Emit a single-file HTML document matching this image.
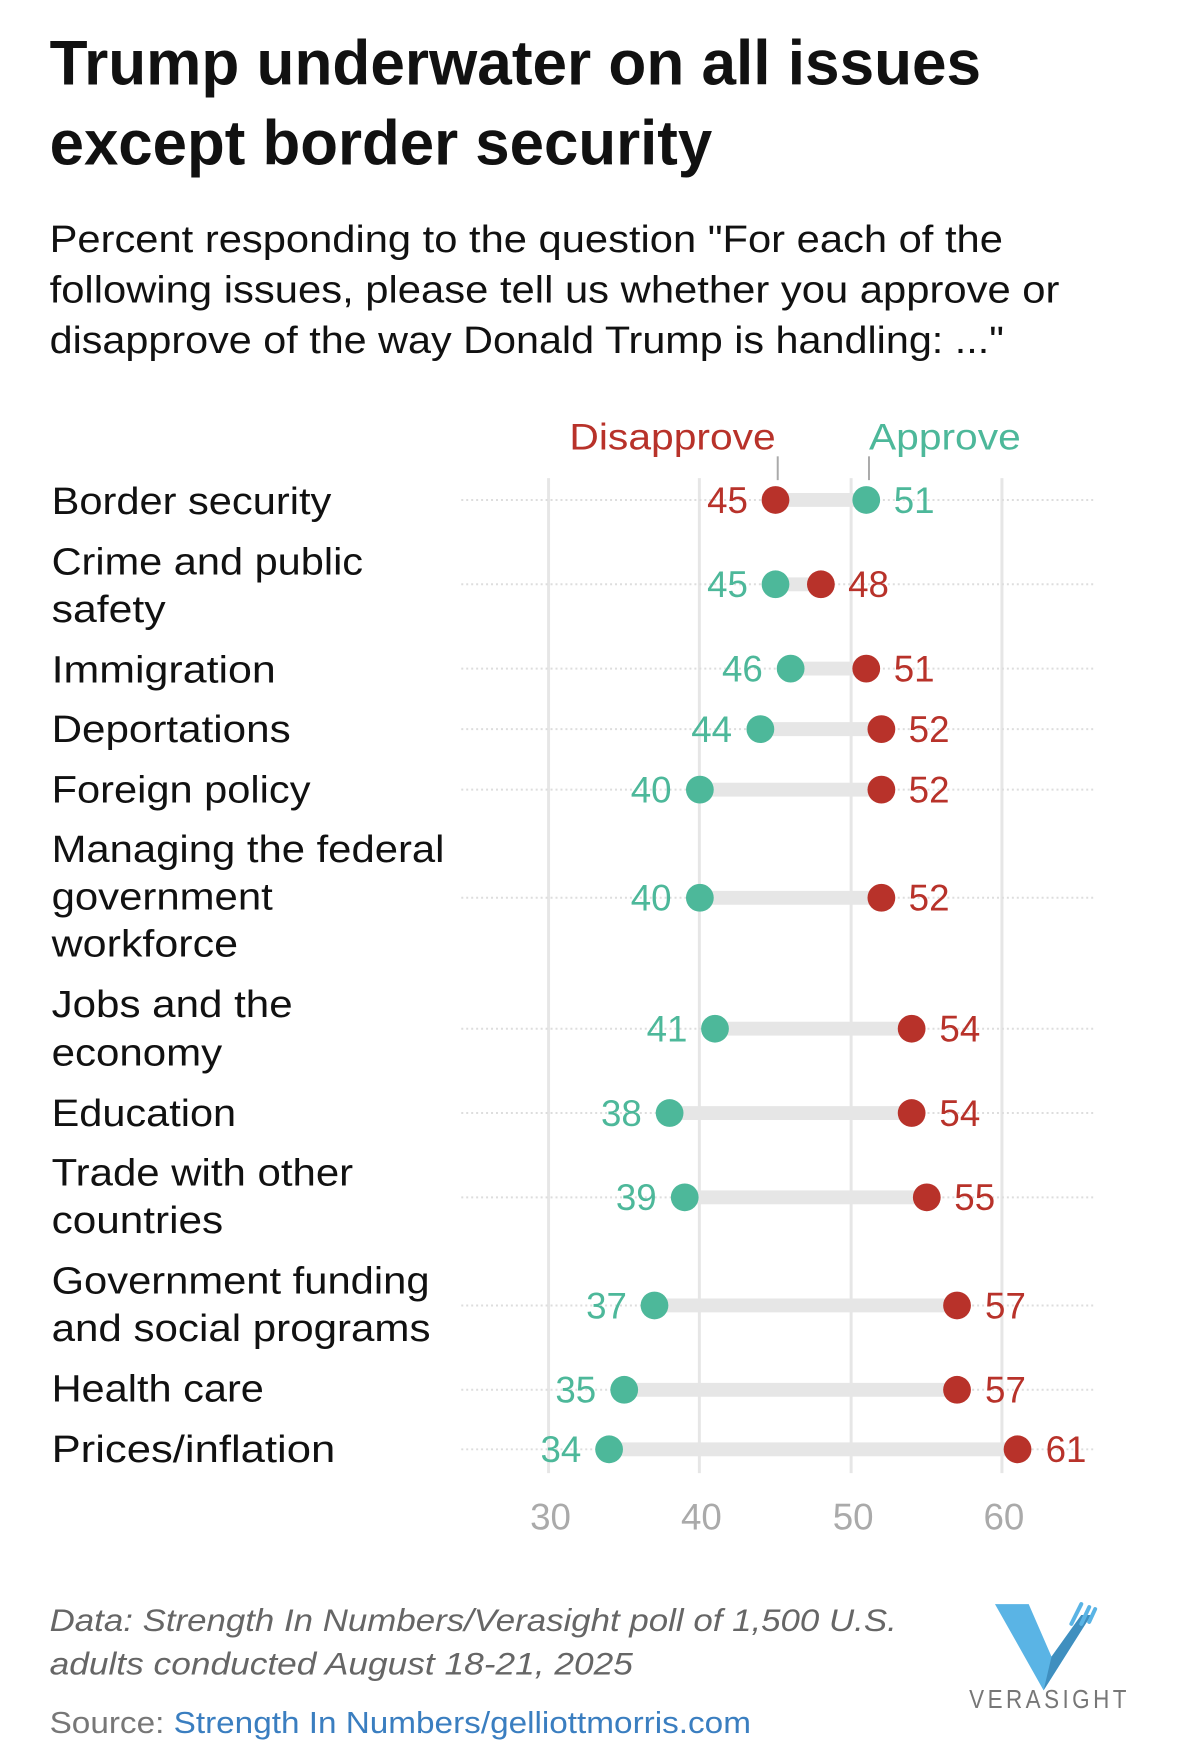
<!DOCTYPE html>
<html><head><meta charset="utf-8"><style>html,body{margin:0;padding:0;background:#fff}svg{display:block}</style></head>
<body>
<svg width="1179" height="1763" viewBox="0 0 1179 1763" xmlns="http://www.w3.org/2000/svg" font-family="Liberation Sans, sans-serif">
<rect width="1179" height="1763" fill="#fff"/>
<g transform="scale(0.992)">
<g font-weight="bold" font-size="64" fill="#111">
<text x="50" y="85" textLength="939" lengthAdjust="spacingAndGlyphs">Trump underwater on all issues</text>
<text x="50" y="166" textLength="668" lengthAdjust="spacingAndGlyphs">except border security</text>
</g>
<g font-size="38" fill="#111">
<text x="50" y="254" textLength="961" lengthAdjust="spacingAndGlyphs">Percent responding to the question "For each of the</text>
<text x="50" y="305" textLength="1018" lengthAdjust="spacingAndGlyphs">following issues, please tell us whether you approve or</text>
<text x="50" y="356" textLength="962" lengthAdjust="spacingAndGlyphs">disapprove of the way Donald Trump is handling: ..."</text>
</g>
<text x="574" y="453" font-size="37" fill="#b8322a" textLength="208" lengthAdjust="spacingAndGlyphs">Disapprove</text>
<text x="876" y="453" font-size="37" fill="#4db89a" textLength="153" lengthAdjust="spacingAndGlyphs">Approve</text>
<line x1="784" y1="460" x2="784" y2="484" stroke="#aaa" stroke-width="2"/>
<line x1="876" y1="460" x2="876" y2="484" stroke="#aaa" stroke-width="2"/>
<g stroke="#e6e6e6" stroke-width="3">
<line x1="553" y1="482" x2="553" y2="1485"/><line x1="705" y1="482" x2="705" y2="1485"/>
<line x1="858" y1="482" x2="858" y2="1485"/><line x1="1010" y1="482" x2="1010" y2="1485"/>
</g>
<g font-size="37" fill="#aaa" text-anchor="middle">
<text x="555" y="1542">30</text><text x="707" y="1542">40</text><text x="860" y="1542">50</text><text x="1012" y="1542">60</text>
</g>
<g stroke="#ddd" stroke-width="2" stroke-dasharray="2,3">
<line x1="465" y1="504" x2="1105" y2="504"/><line x1="465" y1="589" x2="1105" y2="589"/>
<line x1="465" y1="674" x2="1105" y2="674"/><line x1="465" y1="735" x2="1105" y2="735"/>
<line x1="465" y1="796" x2="1105" y2="796"/><line x1="465" y1="905" x2="1105" y2="905"/>
<line x1="465" y1="1037" x2="1105" y2="1037"/><line x1="465" y1="1122" x2="1105" y2="1122"/>
<line x1="465" y1="1207" x2="1105" y2="1207"/><line x1="465" y1="1316" x2="1105" y2="1316"/>
<line x1="465" y1="1401" x2="1105" y2="1401"/><line x1="465" y1="1461" x2="1105" y2="1461"/>
</g>
<g stroke="#e6e6e6" stroke-width="14">
<line x1="781.75" y1="504" x2="873.25" y2="504"/>
<line x1="781.75" y1="589" x2="827.5" y2="589"/>
<line x1="797" y1="674" x2="873.25" y2="674"/>
<line x1="766.5" y1="735" x2="888.5" y2="735"/>
<line x1="705.5" y1="796" x2="888.5" y2="796"/>
<line x1="705.5" y1="905" x2="888.5" y2="905"/>
<line x1="720.75" y1="1037" x2="919" y2="1037"/>
<line x1="675" y1="1122" x2="919" y2="1122"/>
<line x1="690.25" y1="1207" x2="934.25" y2="1207"/>
<line x1="659.75" y1="1316" x2="964.75" y2="1316"/>
<line x1="629.25" y1="1401" x2="964.75" y2="1401"/>
<line x1="614" y1="1461" x2="1025.75" y2="1461"/>
</g>
<g fill="#b8322a">
<circle cx="781.75" cy="504" r="14"/><circle cx="827.5" cy="589" r="14"/><circle cx="873.25" cy="674" r="14"/>
<circle cx="888.5" cy="735" r="14"/><circle cx="888.5" cy="796" r="14"/><circle cx="888.5" cy="905" r="14"/>
<circle cx="919" cy="1037" r="14"/><circle cx="919" cy="1122" r="14"/><circle cx="934.25" cy="1207" r="14"/>
<circle cx="964.75" cy="1316" r="14"/><circle cx="964.75" cy="1401" r="14"/><circle cx="1025.75" cy="1461" r="14"/>
</g>
<g fill="#4db89a">
<circle cx="873.25" cy="504" r="14"/><circle cx="781.75" cy="589" r="14"/><circle cx="797" cy="674" r="14"/>
<circle cx="766.5" cy="735" r="14"/><circle cx="705.5" cy="796" r="14"/><circle cx="705.5" cy="905" r="14"/>
<circle cx="720.75" cy="1037" r="14"/><circle cx="675" cy="1122" r="14"/><circle cx="690.25" cy="1207" r="14"/>
<circle cx="659.75" cy="1316" r="14"/><circle cx="629.25" cy="1401" r="14"/><circle cx="614" cy="1461" r="14"/>
</g>
<g font-size="37">
<text x="754" y="517" fill="#b8322a" text-anchor="end">45</text><text x="901" y="517" fill="#4db89a">51</text>
<text x="754" y="602" fill="#4db89a" text-anchor="end">45</text><text x="855" y="602" fill="#b8322a">48</text>
<text x="769" y="687" fill="#4db89a" text-anchor="end">46</text><text x="901" y="687" fill="#b8322a">51</text>
<text x="738" y="748" fill="#4db89a" text-anchor="end">44</text><text x="916" y="748" fill="#b8322a">52</text>
<text x="677" y="809" fill="#4db89a" text-anchor="end">40</text><text x="916" y="809" fill="#b8322a">52</text>
<text x="677" y="918" fill="#4db89a" text-anchor="end">40</text><text x="916" y="918" fill="#b8322a">52</text>
<text x="693" y="1050" fill="#4db89a" text-anchor="end">41</text><text x="947" y="1050" fill="#b8322a">54</text>
<text x="647" y="1135" fill="#4db89a" text-anchor="end">38</text><text x="947" y="1135" fill="#b8322a">54</text>
<text x="662" y="1220" fill="#4db89a" text-anchor="end">39</text><text x="962" y="1220" fill="#b8322a">55</text>
<text x="632" y="1329" fill="#4db89a" text-anchor="end">37</text><text x="993" y="1329" fill="#b8322a">57</text>
<text x="601" y="1414" fill="#4db89a" text-anchor="end">35</text><text x="993" y="1414" fill="#b8322a">57</text>
<text x="586" y="1474" fill="#4db89a" text-anchor="end">34</text><text x="1054" y="1474" fill="#b8322a">61</text>
</g>
<g font-size="38" fill="#111">
<text x="52" y="518" textLength="282" lengthAdjust="spacingAndGlyphs">Border security</text>
<text x="52" y="579" textLength="314" lengthAdjust="spacingAndGlyphs">Crime and public</text>
<text x="52" y="627" textLength="115" lengthAdjust="spacingAndGlyphs">safety</text>
<text x="52" y="688" textLength="226" lengthAdjust="spacingAndGlyphs">Immigration</text>
<text x="52" y="748" textLength="241" lengthAdjust="spacingAndGlyphs">Deportations</text>
<text x="52" y="809" textLength="261" lengthAdjust="spacingAndGlyphs">Foreign policy</text>
<text x="52" y="869" textLength="396" lengthAdjust="spacingAndGlyphs">Managing the federal</text>
<text x="52" y="917" textLength="223" lengthAdjust="spacingAndGlyphs">government</text>
<text x="52" y="964" textLength="188" lengthAdjust="spacingAndGlyphs">workforce</text>
<text x="52" y="1025" textLength="243" lengthAdjust="spacingAndGlyphs">Jobs and the</text>
<text x="52" y="1074" textLength="172" lengthAdjust="spacingAndGlyphs">economy</text>
<text x="52" y="1135" textLength="186" lengthAdjust="spacingAndGlyphs">Education</text>
<text x="52" y="1195" textLength="304" lengthAdjust="spacingAndGlyphs">Trade with other</text>
<text x="52" y="1243" textLength="173" lengthAdjust="spacingAndGlyphs">countries</text>
<text x="52" y="1304" textLength="381" lengthAdjust="spacingAndGlyphs">Government funding</text>
<text x="52" y="1352" textLength="382" lengthAdjust="spacingAndGlyphs">and social programs</text>
<text x="52" y="1413" textLength="214" lengthAdjust="spacingAndGlyphs">Health care</text>
<text x="52" y="1474" textLength="286" lengthAdjust="spacingAndGlyphs">Prices/inflation</text>
</g>
<g font-size="32" font-style="italic" fill="#666">
<text x="50" y="1644" textLength="854" lengthAdjust="spacingAndGlyphs">Data: Strength In Numbers/Verasight poll of 1,500 U.S.</text>
<text x="50" y="1688" textLength="588" lengthAdjust="spacingAndGlyphs">adults conducted August 18-21, 2025</text>
</g>
<text x="50" y="1747" font-size="31" fill="#777" textLength="707" lengthAdjust="spacingAndGlyphs">Source: <tspan fill="#3a7ec0">Strength In Numbers/gelliottmorris.com</tspan></text>
<polygon points="1003,1617 1037,1617 1060,1670 1090,1628 1100,1628 1052,1704" fill="#5ab4e5"/>
<polygon points="1060,1670 1090,1628 1100,1628 1052,1704" fill="#3f8fbf"/>
<g stroke="#5ab4e5" stroke-width="4" stroke-linecap="round">
<line x1="1080" y1="1637" x2="1090" y2="1617"/><line x1="1090" y1="1637" x2="1098" y2="1620"/><line x1="1098" y1="1635" x2="1104" y2="1622"/>
</g>
<text x="977" y="1722" font-size="26" fill="#777" letter-spacing="4" textLength="162" lengthAdjust="spacingAndGlyphs">VERASIGHT</text>
</g>
</svg>
</body></html>
